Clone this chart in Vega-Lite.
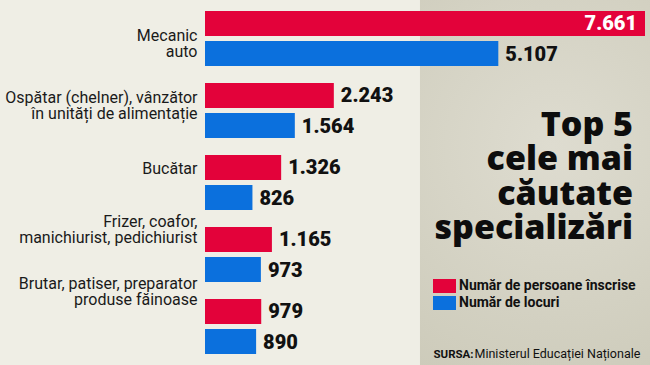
{
  "$schema": "https://vega.github.io/schema/vega-lite/v6.json",
  "width": 445,
  "height": 365,
  "autosize": {"type": "none"},
  "padding": {"left": 205, "top": 0, "right": 0, "bottom": 0},
  "background": "#efeee5",
  "config": {
    "view": {"stroke": null},
    "locale": {"number": {"decimal": ",", "thousands": ".", "grouping": [3], "currency": ["", ""]}}
  },
  "title": {
    "text": ["Top 5", "cele mai", "căutate", "specializări"],
    "anchor": "end",
    "frame": "group",
    "orient": "top",
    "offset": 0,
    "baseline": "alphabetic",
    "dy": 273,
    "dx": -17,
    "lineHeight": 34.5,
    "font": "Open Sans",
    "fontWeight": 800,
    "fontSize": 34,
    "color": "#0d0d0d"
  },
  "datasets": {
    "bars": [
      {"cat": "Mecanic auto", "series": "Număr de persoane înscrise", "value": 7661},
      {"cat": "Mecanic auto", "series": "Număr de locuri", "value": 5107},
      {"cat": "Ospătar (chelner), vânzător în unități de alimentație", "series": "Număr de persoane înscrise", "value": 2243},
      {"cat": "Ospătar (chelner), vânzător în unități de alimentație", "series": "Număr de locuri", "value": 1564},
      {"cat": "Bucătar", "series": "Număr de persoane înscrise", "value": 1326},
      {"cat": "Bucătar", "series": "Număr de locuri", "value": 826},
      {"cat": "Frizer, coafor, manichiurist, pedichiurist", "series": "Număr de persoane înscrise", "value": 1165},
      {"cat": "Frizer, coafor, manichiurist, pedichiurist", "series": "Număr de locuri", "value": 973},
      {"cat": "Brutar, patiser, preparator produse făinoase", "series": "Număr de persoane înscrise", "value": 979},
      {"cat": "Brutar, patiser, preparator produse făinoase", "series": "Număr de locuri", "value": 890}
    ]
  },
  "layer": [
    {
      "data": {"values": [{}]},
      "mark": {
        "type": "rect",
        "color": {
          "gradient": "radial",
          "x1": 0.55, "y1": 0.4, "r1": 0,
          "x2": 0.55, "y2": 0.4, "r2": 0.75,
          "stops": [
            {"offset": 0, "color": "#dedcd0"},
            {"offset": 1, "color": "#cccab9"}
          ]
        }
      },
      "encoding": {
        "x": {"datum": 3743, "type": "quantitative", "scale": {"domain": [0, 7748], "nice": false, "zero": true}},
        "x2": {"datum": 7748}
      }
    },
    {
      "data": {"name": "bars"},
      "mark": {"type": "bar"},
      "encoding": {
        "y": {
          "field": "cat",
          "type": "nominal",
          "sort": null,
          "scale": {"paddingInner": 0.236, "paddingOuter": 0.1527},
          "axis": {
            "zindex": 2,
            "title": "SURSA:",
            "titleAngle": 0,
            "titleX": 228,
            "titleY": 357,
            "titleAlign": "left",
            "titleBaseline": "alphabetic",
            "titleFont": "Roboto",
            "titleFontSize": 11.5,
            "titleFontWeight": "bold",
            "titleColor": "#111111",
            "domain": false,
            "ticks": false,
            "labelPadding": 8,
            "labelFont": "Roboto",
            "labelFontSize": 16,
            "labelColor": "#1a1a1a",
            "labelLineHeight": 16,
            "labelLimit": 0,
            "labelExpr": "datum.value == 'Mecanic auto' ? ['Mecanic', 'auto'] : datum.value == 'Ospătar (chelner), vânzător în unități de alimentație' ? ['Ospătar (chelner), vânzător', 'în unități de alimentație'] : datum.value == 'Frizer, coafor, manichiurist, pedichiurist' ? ['Frizer, coafor,', 'manichiurist, pedichiurist'] : datum.value == 'Brutar, patiser, preparator produse făinoase' ? ['Brutar, patiser, preparator', 'produse făinoase'] : datum.value",
            "labelOffset": {
              "condition": [
                {"test": "datum.value == 'Mecanic auto'", "value": -2.5},
                {"test": "datum.value == 'Bucătar'", "value": -14},
                {"test": "datum.value == 'Frizer, coafor, manichiurist, pedichiurist'", "value": -32.5},
                {"test": "datum.value == 'Brutar, patiser, preparator produse făinoase'", "value": -43}
              ],
              "value": -12.5
            }
          }
        },
        "yOffset": {
          "field": "series",
          "type": "nominal",
          "sort": ["Număr de persoane înscrise", "Număr de locuri"],
          "scale": {"paddingInner": 0.1667, "paddingOuter": 0}
        },
        "x": {
          "field": "value",
          "type": "quantitative",
          "axis": {
            "zindex": 2,
            "title": "Ministerul Educației Naționale",
            "titleX": 269,
            "titleY": -8,
            "titleAlign": "left",
            "titleAnchor": "start",
            "titleBaseline": "alphabetic",
            "titleFont": "Roboto",
            "titleFontSize": 12.5,
            "titleFontWeight": "normal",
            "titleColor": "#111111",
            "domain": false,
            "ticks": false,
            "labels": false,
            "grid": false
          }
        },
        "color": {
          "field": "series",
          "type": "nominal",
          "sort": ["Număr de persoane înscrise", "Număr de locuri"],
          "scale": {"domain": ["Număr de persoane înscrise", "Număr de locuri"], "range": ["#e3023a", "#0b70dd"]},
          "legend": {
            "orient": "none",
            "legendX": 229.5,
            "legendY": 276,
            "title": null,
            "padding": 0,
            "symbolType": "M-1.15,-0.7H1.15V0.7H-1.15Z",
            "symbolSize": 400,
            "symbolStrokeWidth": 0,
            "symbolOpacity": 1,
            "labelFont": "Roboto",
            "labelFontSize": 14,
            "labelFontWeight": "bold",
            "labelColor": "#111111",
            "labelOffset": 4.5,
            "labelLimit": 0,
            "rowPadding": 0
          }
        }
      }
    },
    {
      "data": {"name": "bars"},
      "transform": [{"filter": "datum.value < 7000"}],
      "mark": {"type": "text", "align": "left", "baseline": "middle", "dx": 7, "dy": 1, "font": "Roboto", "fontWeight": 900, "fontSize": 20, "color": "#111111"},
      "encoding": {
        "y": {"field": "cat", "type": "nominal", "sort": null},
        "yOffset": {"field": "series", "type": "nominal", "sort": ["Număr de persoane înscrise", "Număr de locuri"]},
        "x": {"field": "value", "type": "quantitative"},
        "text": {"field": "value", "type": "quantitative", "format": ",d"}
      }
    },
    {
      "data": {"name": "bars"},
      "transform": [{"filter": "datum.value >= 7000"}],
      "mark": {"type": "text", "align": "right", "baseline": "middle", "dx": -8, "dy": 1, "font": "Roboto", "fontWeight": 900, "fontSize": 20, "color": "#ffffff"},
      "encoding": {
        "y": {"field": "cat", "type": "nominal", "sort": null},
        "yOffset": {"field": "series", "type": "nominal", "sort": ["Număr de persoane înscrise", "Număr de locuri"]},
        "x": {"field": "value", "type": "quantitative"},
        "text": {"field": "value", "type": "quantitative", "format": ",d"}
      }
    }
  ]
}
